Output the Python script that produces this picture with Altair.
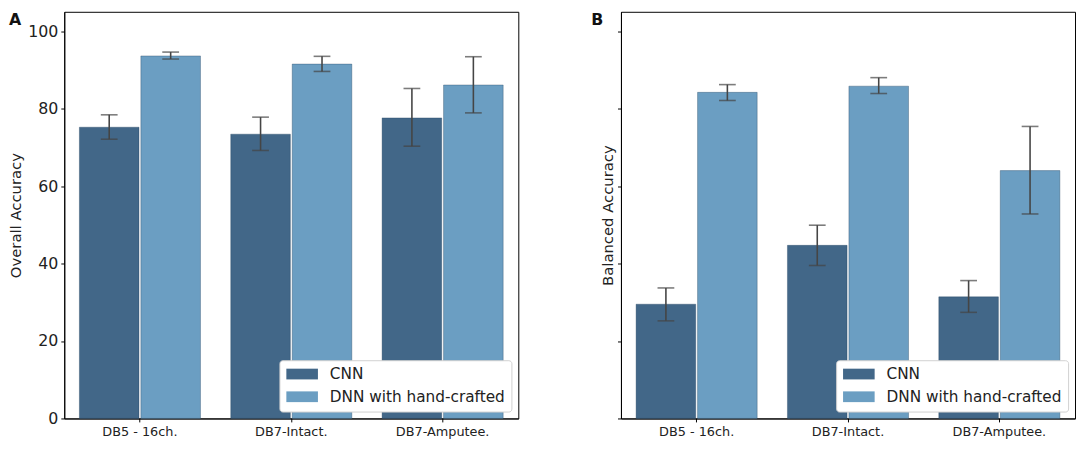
import altair as alt
import pandas as pd

categories = ["DB5 - 16ch.", "DB7-Intact.", "DB7-Amputee."]
models = ["CNN", "DNN with hand-crafted"]

# Panel A: overall accuracy
cnn_overall = [75.2, 73.4, 77.6]
cnn_overall_lo = [72.1, 69.2, 70.3]
cnn_overall_hi = [78.4, 77.8, 85.2]
dnn_overall = [93.6, 91.5, 86.1]
dnn_overall_lo = [92.8, 89.6, 78.9]
dnn_overall_hi = [94.6, 93.5, 93.4]

# Panel B: balanced accuracy
cnn_bal = [29.5, 44.7, 31.4]
cnn_bal_lo = [25.2, 39.5, 27.4]
cnn_bal_hi = [33.7, 49.9, 35.6]
dnn_bal = [84.2, 85.8, 64.0]
dnn_bal_lo = [82.1, 83.9, 52.8]
dnn_bal_hi = [86.2, 88.0, 75.4]

y_ticks = [0, 20, 40, 60, 80, 100]
colors = ["#426788", "#6b9ec2"]


def make_df(c, clo, chi, d, dlo, dhi):
    rows = []
    for i, cat in enumerate(categories):
        rows.append({"cat": cat, "model": models[0], "value": c[i], "lo": clo[i], "hi": chi[i]})
        rows.append({"cat": cat, "model": models[1], "value": d[i], "lo": dlo[i], "hi": dhi[i]})
    return pd.DataFrame(rows)


def panel(df, ytitle, show_labels, letter, title_pad, letter_x):
    base = alt.Chart(df)
    x = alt.X("cat:N", sort=categories,
              scale=alt.Scale(paddingInner=0.2, paddingOuter=0.1),
              axis=alt.Axis(title=None, labelAngle=0, labelFontSize=13,
                            tickSize=3.5, labelPadding=4, labelColor="#222"))
    xo = alt.XOffset("model:N", sort=models, scale=alt.Scale(paddingInner=0.03))
    yscale = alt.Scale(domain=[0, 105], nice=False, zero=True)
    bars = base.mark_bar(strokeWidth=1, strokeOpacity=0.35, stroke="#1d3d5c").encode(
        x=x,
        xOffset=xo,
        y=alt.Y("value:Q", scale=yscale,
                axis=alt.Axis(values=y_ticks, title=ytitle, labels=show_labels,
                              labelFontSize=16, tickSize=3.5, labelPadding=3,
                              titleFontSize=15, titleFontWeight="normal",
                              titlePadding=title_pad, labelColor="#222",
                              titleColor="#222")),
        color=alt.Color("model:N", sort=models,
                        scale=alt.Scale(domain=models, range=colors),
                        legend=alt.Legend(
                            orient="bottom-right", title=None, offset=7,
                            padding=6, rowPadding=6, labelFontSize=15.5,
                            symbolType="M-2,-0.68L2,-0.68L2,0.68L-2,0.68Z",
                            symbolSize=256, symbolStrokeWidth=0,
                            symbolOffset=9, labelOffset=20,
                            symbolOpacity=1,
                            strokeColor="#d0d0d0", cornerRadius=3,
                            fillColor="white", labelColor="#222",
                            labelLimit=400)),
    )
    rule = base.mark_rule(color="#454545", strokeWidth=1.6).encode(
        x=alt.X("cat:N", sort=categories), xOffset=xo,
        y=alt.Y("lo:Q", scale=yscale), y2="hi:Q")
    tick_lo = base.mark_tick(color="#454545", size=17, thickness=1.6).encode(
        x=alt.X("cat:N", sort=categories), xOffset=xo,
        y=alt.Y("lo:Q", scale=yscale))
    tick_hi = base.mark_tick(color="#454545", size=17, thickness=1.6).encode(
        x=alt.X("cat:N", sort=categories), xOffset=xo,
        y=alt.Y("hi:Q", scale=yscale))
    label = alt.Chart(pd.DataFrame({"t": [letter]})).mark_text(
        fontWeight="bold", fontSize=16, align="left", baseline="top",
        color="#111").encode(text="t:N", x=alt.value(letter_x), y=alt.value(0))
    return alt.layer(bars, rule, tick_lo, tick_hi, label).properties(width=460, height=412)


df_a = make_df(cnn_overall, cnn_overall_lo, cnn_overall_hi,
               dnn_overall, dnn_overall_lo, dnn_overall_hi)
df_b = make_df(cnn_bal, cnn_bal_lo, cnn_bal_hi,
               dnn_bal, dnn_bal_lo, dnn_bal_hi)

pa = panel(df_a, "Overall Accuracy", True, "A", 4, -56)
pb = panel(df_b, "Balanced Accuracy", False, "B", 2, -30)

chart = alt.hconcat(pa, pb, spacing=72).resolve_legend(color="independent").resolve_scale(color="independent").configure(
    font="DejaVu Sans", padding=0
).configure_view(stroke="black", strokeWidth=1).configure_axis(
    grid=False, domainColor="black", tickColor="black", domainWidth=1, tickWidth=1
)

chart.save("out.html", embed_options={"renderer": "svg", "actions": False})
